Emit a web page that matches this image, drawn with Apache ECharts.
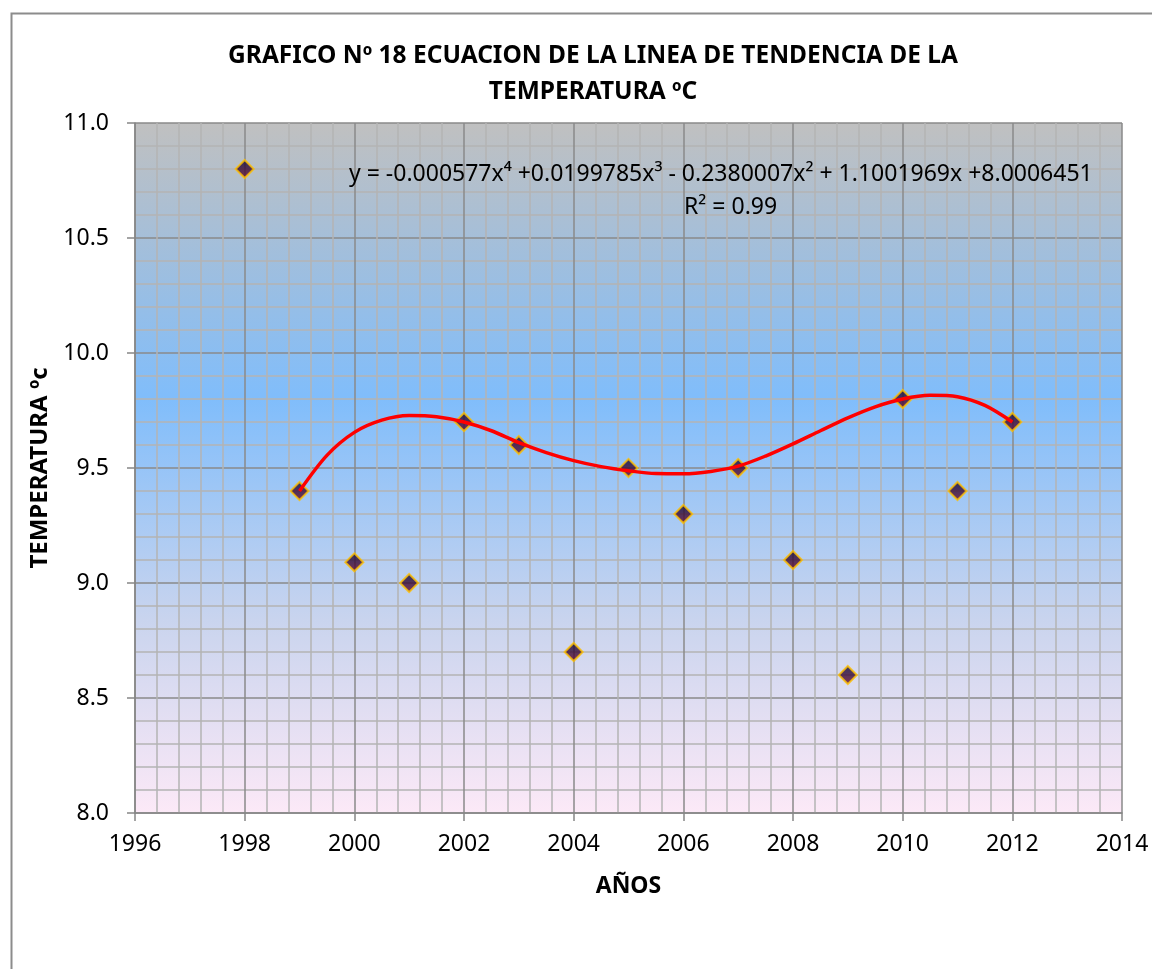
<!DOCTYPE html>
<html>
<head>
<meta charset="utf-8">
<script src="https://cdn.jsdelivr.net/npm/echarts@6/dist/echarts.min.js"></script>
<style>
  html, body { margin: 0; padding: 0; background: #fff; }
  #chart { width: 1152px; height: 969px; }
</style>
</head>
<body>
<div id="chart"></div>
<script>
// datos medidos
var years = [1998, 1999, 2000, 2001, 2002, 2003, 2004, 2005, 2006, 2007, 2008, 2009, 2010, 2011, 2012];
var temps = [10.8, 9.4, 9.09, 9.0, 9.7, 9.6, 8.7, 9.5, 9.3, 9.5, 9.1, 8.6, 9.8, 9.4, 9.7];

var trendYears = [1999, 1999.5, 2000, 2000.5, 2001, 2001.5, 2002, 2002.5, 2003, 2003.5, 2004, 2004.5,
  2005, 2005.5, 2006, 2006.5, 2007, 2007.5, 2008, 2008.5, 2009, 2009.5, 2010, 2010.5, 2011, 2011.5, 2012];
var trendTemps = [9.40, 9.555, 9.655, 9.708, 9.728, 9.723, 9.70, 9.662, 9.61, 9.567, 9.532, 9.506,
  9.488, 9.476, 9.475, 9.485, 9.508, 9.552, 9.605, 9.662, 9.718, 9.766, 9.80, 9.816, 9.81, 9.772, 9.70];

var titleText = 'GRAFICO Nº 18 ECUACION DE LA LINEA DE TENDENCIA DE LA\nTEMPERATURA ºC';
var equationText = 'y = -0.000577x⁴ +0.0199785x³ - 0.2380007x² + 1.1001969x +8.0006451';
var r2Text = 'R² = 0.99';

var font = 'Noto Sans';

var myChart = echarts.init(document.getElementById('chart'));

var points = years.map(function (y, i) { return [y, temps[i]]; });
var trend = trendYears.map(function (y, i) { return [y, trendTemps[i]]; });

var option = {
  animation: false,
  backgroundColor: '#ffffff',
  textStyle: { fontFamily: font },
  title: {
    text: titleText,
    left: 588,
    textAlign: 'center',
    top: 33,
    textStyle: { fontFamily: font, fontSize: 24.5, fontWeight: 'bold', color: '#000', lineHeight: 36 }
  },
  grid: {
    left: 135,
    right: 30,
    top: 123,
    bottom: 156,
    show: true,
    borderWidth: 0,
    backgroundColor: new echarts.graphic.LinearGradient(0, 0, 0, 1, [
      { offset: 0, color: '#c0c0c0' },
      { offset: 0.4, color: '#80bdfb' },
      { offset: 0.72, color: '#c9d4ee' },
      { offset: 1, color: '#fce9f7' }
    ])
  },
  xAxis: {
    type: 'value',
    min: 1996,
    max: 2014,
    interval: 2,
    name: 'AÑOS',
    nameLocation: 'middle',
    nameGap: 62,
    nameTextStyle: { fontFamily: font, fontSize: 23, fontWeight: 'bold', color: '#000' },
    axisLine: { show: true, onZero: false, lineStyle: { color: '#868686', width: 1.5 } },
    axisTick: { show: true, length: 8, lineStyle: { color: '#868686', width: 1.5 } },
    axisLabel: {
      fontFamily: font, fontSize: 23, color: '#000', margin: 20,
      formatter: function (v) { return String(v); }
    },
    splitLine: { show: true, lineStyle: { color: '#8a8a8a', width: 1.5 } },
    minorTick: { show: false, splitNumber: 5 },
    minorSplitLine: { show: true, lineStyle: { color: '#b4b4b4', width: 1.5 } }
  },
  yAxis: {
    type: 'value',
    min: 8,
    max: 11,
    interval: 0.5,
    name: 'TEMPERATURA ºc',
    nameLocation: 'middle',
    nameGap: 82,
    nameRotate: 90,
    nameTextStyle: { fontFamily: font, fontSize: 24, fontWeight: 'bold', color: '#000' },
    axisLine: { show: true, onZero: false, lineStyle: { color: '#868686', width: 1.5 } },
    axisTick: { show: true, length: 8, lineStyle: { color: '#868686', width: 1.5 } },
    axisLabel: {
      fontFamily: font, fontSize: 23, color: '#000', margin: 26,
      formatter: function (v) { return v.toFixed(1); }
    },
    splitLine: { show: true, lineStyle: { color: '#8a8a8a', width: 1.5 } },
    minorTick: { show: false, splitNumber: 5 },
    minorSplitLine: { show: true, lineStyle: { color: '#b4b4b4', width: 1.5 } }
  },
  graphic: [
    {
      type: 'rect',
      left: 9,
      top: 11,
      shape: { width: 1300, height: 1100 },
      style: { fill: 'none', stroke: '#8c8c8c', lineWidth: 2 },
      z: -10
    },
    {
      type: 'text',
      left: 349,
      top: 163,
      style: { text: equationText, fontFamily: font, fontSize: 23, fill: '#000' },
      z: 10
    },
    {
      type: 'text',
      left: 684,
      top: 196,
      style: { text: r2Text, fontFamily: font, fontSize: 23, fill: '#000' },
      z: 10
    }
  ],
  series: [
    {
      name: 'Temperatura',
      type: 'scatter',
      data: points,
      symbol: 'diamond',
      symbolSize: 18,
      itemStyle: {
        color: new echarts.graphic.LinearGradient(0, 0, 0, 1, [
          { offset: 0, color: '#0a0a3a' },
          { offset: 1, color: '#6a0a2e' }
        ]),
        borderColor: '#ffc000',
        borderWidth: 2
      },
      z: 3
    },
    {
      name: 'Tendencia',
      type: 'line',
      data: trend,
      smooth: 0.3,
      showSymbol: false,
      symbol: 'none',
      lineStyle: { color: '#ff0000', width: 3.5 },
      z: 4
    }
  ]
};

myChart.setOption(option);
</script>
</body>
</html>
